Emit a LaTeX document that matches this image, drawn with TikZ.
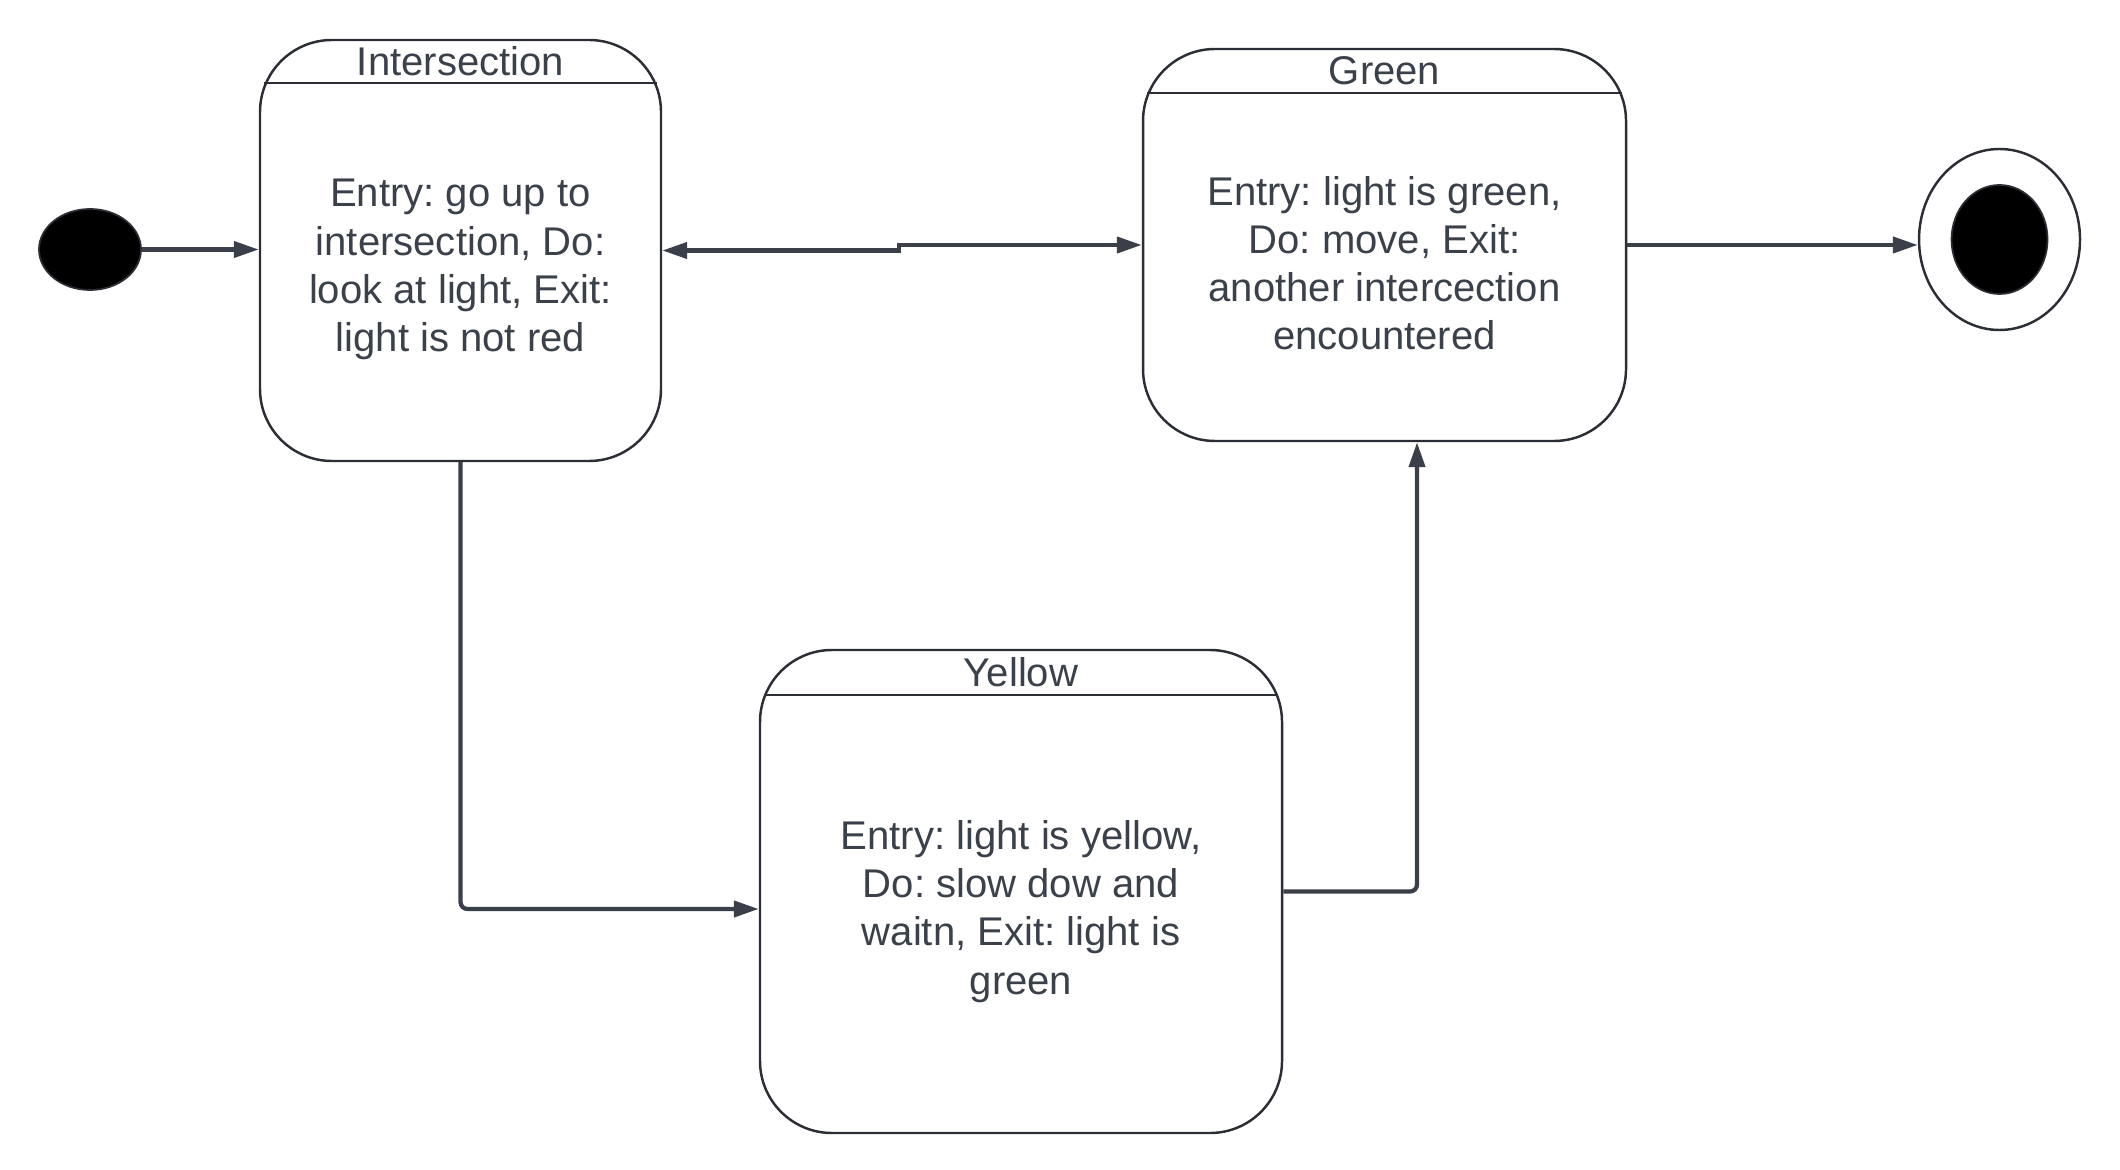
\documentclass[tikz,border=0pt]{standalone}
\usepackage{fontspec}
\setmainfont{Liberation Sans}
\usepackage{xcolor}
\usepackage{tikz}
\usetikzlibrary{calc, positioning, shapes.geometric, arrows.meta}
\frenchspacing

\definecolor{linegray}{HTML}{3A3F4A}
\definecolor{textgray}{HTML}{3A414A}
\definecolor{edgegray}{HTML}{2B2E34}

\tikzset{
  state/.style={draw=edgegray, line width=0.7pt, rounded corners=0.72cm, inner sep=0pt},
  header/.style={draw=edgegray, line width=0.7pt},
  title/.style={text=textgray, font=\fontsize{11.4}{13.7}\selectfont},
  body/.style={text=textgray, align=center, font=\fontsize{11.4}{13.7}\selectfont},
  conn/.style={draw=linegray, line width=1.2pt, rounded corners=0.07cm, >={Triangle[length=0.25cm, width=0.16cm]}},
  dot/.style={ellipse, fill=black, draw=edgegray, line width=0.5pt, inner sep=0pt}
}

\begin{document}
\begin{tikzpicture}
  \useasboundingbox (0,0) rectangle (21.2,-11.7);
  % initial and final states
  \node[dot, minimum width=1.02cm, minimum height=0.81cm] (init) at (0.90,-2.495) {};
  \node[ellipse, draw=edgegray, line width=0.7pt, minimum width=1.61cm, minimum height=1.81cm, inner sep=0pt] (final) at (19.995,-2.395) {};
  \node[dot, minimum width=0.96cm, minimum height=1.09cm] (finaldot) at (final) {};
  % states
  \node[state, minimum width=4.01cm, minimum height=4.21cm] (inter) at (4.605,-2.505) {};
  \node[state, minimum width=4.83cm, minimum height=3.92cm] (green) at (13.845,-2.45) {};
  \node[state, minimum width=5.22cm, minimum height=4.83cm] (yellow) at (10.21,-8.915) {};
  \draw[header] ($(inter.north west)+(0.055,-0.44)$) -- ($(inter.north east)+(-0.055,-0.44)$);
  \draw[header] ($(green.north west)+(0.055,-0.45)$) -- ($(green.north east)+(-0.055,-0.45)$);
  \draw[header] ($(yellow.north west)+(0.055,-0.46)$) -- ($(yellow.north east)+(-0.055,-0.46)$);
  \node[title] (intertitle) at ($(inter.north)+(0,-0.22)$) {Intersection};
  \node[title] (greentitle) at ($(green.north)+(0,-0.225)$) {Green};
  \node[title] (yellowtitle) at ($(yellow.north)+(0,-0.23)$) {Yellow};
  \node[body] (interbody) at ($(inter.center)+(0,-0.19)$) {Entry: go up to\\intersection, Do:\\look at light, Exit:\\light is not red};
  \node[body] (greenbody) at ($(green.center)+(0,-0.18)$) {Entry: light is green,\\Do: move, Exit:\\another intercection\\encountered};
  \node[body] (yellowbody) at ($(yellow.center)+(0,-0.2)$) {Entry: light is yellow,\\Do: slow dow and\\waitn, Exit: light is\\green};
  % transitions
  \draw[conn, ->] (init) -- (inter.west |- init);
  \draw[conn, <->, sharp corners] (inter.east) -| (8.99,-2.45) -- (green.west);
  \draw[conn, ->] (green.east) -- (final.west |- green.east);
  \draw[conn, ->] (inter.south) |- ($(yellow.west)+(0,-0.175)$);
  \draw[conn, ->] (yellow.east) -| ($(green.south)+(0.325,0)$);
\end{tikzpicture}
\end{document}
